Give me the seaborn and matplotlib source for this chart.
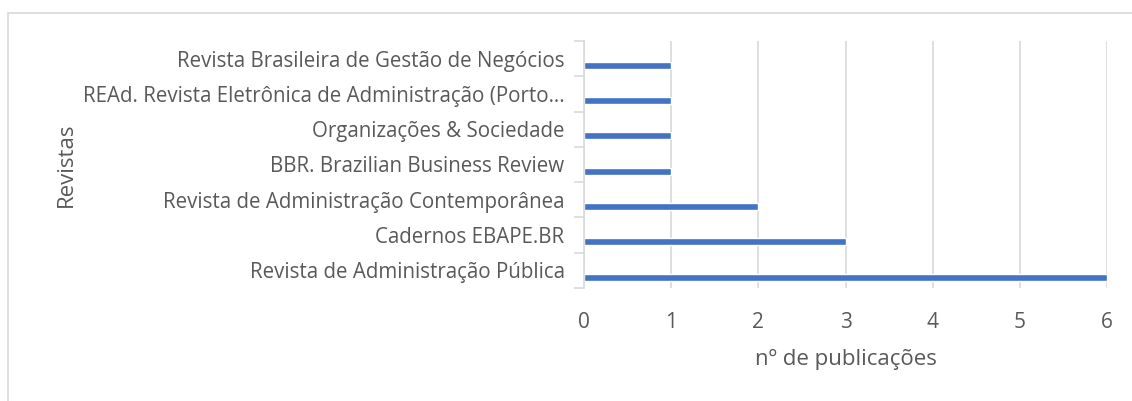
import numpy as np
import pandas as pd
import matplotlib
matplotlib.use("Agg")
import matplotlib.pyplot as plt
import seaborn as sns
from matplotlib.patches import Rectangle
from matplotlib.ticker import FixedLocator

revistas = [
    "Revista Brasileira de Gestão de Negócios",
    "REAd. Revista Eletrônica de Administração (Porto…",
    "Organizações & Sociedade",
    "BBR. Brazilian Business Review",
    "Revista de Administração Contemporânea",
    "Cadernos EBAPE.BR",
    "Revista de Administração Pública",
]
publicacoes = [1, 1, 1, 1, 2, 3, 6]
x_ticks = [0, 1, 2, 3, 4, 5, 6]

df = pd.DataFrame({"Revista": revistas, "Publicacoes": publicacoes})

sns.set_style("white")
plt.rcParams["font.family"] = ["Open Sans", "DejaVu Sans"]

fig = plt.figure(figsize=(11.32, 4.01), dpi=100)
ax = fig.add_axes([0.5159, 0.2818, 0.4621, 0.616])

sns.barplot(data=df, y="Revista", x="Publicacoes", orient="h", color="#4472C4",
            width=0.2, saturation=1, ax=ax)

# Excel-style: bars sit a bit below the category centre
for p in ax.patches:
    p.set_y(p.get_y() + 0.19)

ax.set_xlim(0, 6)
ax.set_ylim(len(revistas) - 0.5, -0.5)
ax.set_xticks(x_ticks)
ax.xaxis.grid(True, color="#D9D9D9", linewidth=1.2)
ax.set_axisbelow(True)

for s in ["top", "right", "bottom"]:
    ax.spines[s].set_visible(False)
ax.spines["left"].set_color("#D9D9D9")
ax.spines["left"].set_linewidth(1.2)

ax.tick_params(axis="x", length=0, labelsize=15, labelcolor="#595959", pad=17)
ax.tick_params(axis="y", which="major", length=0, labelsize=14.8, labelcolor="#595959", pad=14)
ax.yaxis.set_minor_locator(FixedLocator(np.arange(len(revistas) + 1) - 0.5))
ax.tick_params(axis="y", which="minor", left=True, length=7, color="#D9D9D9", width=1.2)

ax.set_xlabel("nº de publicações", fontsize=16, color="#595959", labelpad=12)
ax.set_ylabel("Revistas", fontsize=16, color="#595959")
ax.yaxis.set_label_coords(-0.97, 0.5)

fig.patches.append(Rectangle((8 / 1132, -0.1), 1.2, 1 - 13 / 401 + 0.1,
                             transform=fig.transFigure, fill=False,
                             edgecolor="#D9D9D9", linewidth=1.2))

fig.savefig("out.png", dpi=100)
